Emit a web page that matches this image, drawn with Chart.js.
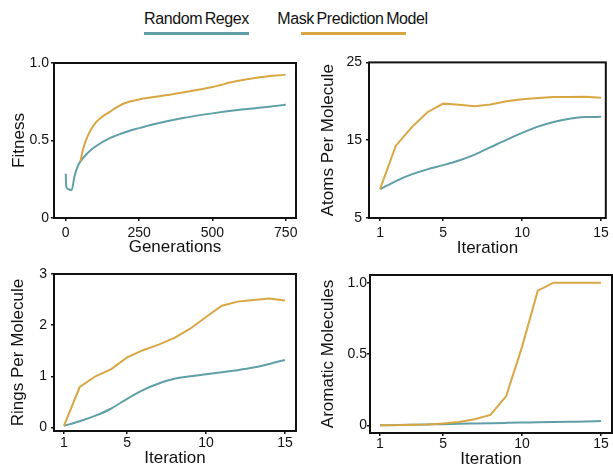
<!DOCTYPE html>
<html>
<head>
<meta charset="utf-8">
<script src="https://cdn.jsdelivr.net/npm/chart.js@4.4.1/dist/chart.umd.min.js"></script>
<style>
    body { margin: 0; width: 613px; height: 466px; background: #fff; position: relative; overflow: hidden; font-family: "Liberation Sans", Arial, sans-serif; }
    canvas { position: absolute; }
    .leg-text { position: absolute; top: 9px; font-size: 16px; line-height: 20px; color: #111; letter-spacing: -0.4px; word-spacing: -1.5px; white-space: nowrap; text-align: center; }
    .leg-line { position: absolute; top: 32px; height: 3px; width: 105px; }
</style>
</head>
<body>
<div class="leg-text" style="left:140px;width:113px">Random Regex</div>
<div class="leg-line" style="left:144px;background:#5f9fa7"></div>
<div class="leg-text" style="left:272px;width:161px">Mask Prediction Model</div>
<div class="leg-line" style="left:301px;background:#d8a744"></div>

<canvas id="fitnessChart" width="306" height="210" style="left:0;top:50px"></canvas>
<canvas id="atomsChart" width="307" height="210" style="left:306px;top:50px"></canvas>
<canvas id="ringsChart" width="306" height="206" style="left:0;top:260px"></canvas>
<canvas id="aromaticChart" width="307" height="206" style="left:306px;top:260px"></canvas>

<script>
    const seriesNames = ['Random Regex', 'Mask Prediction Model'];
    const regexColor = '#5f9fa7';
    const maskColor = '#d8a744';

    // Fitness vs generations
    const fitnessRegexGen = [0, 2, 10, 20, 30, 40, 50, 75, 100, 150, 200, 250, 300, 400, 500, 600, 700, 750];
    const fitnessRegex = [0.285, 0.20, 0.185, 0.18, 0.27, 0.33, 0.365, 0.42, 0.46, 0.515, 0.552, 0.58, 0.605, 0.645, 0.675, 0.70, 0.72, 0.73];
    const fitnessMaskGen = [50, 60, 75, 100, 125, 150, 175, 200, 250, 300, 400, 500, 575, 650, 750];
    const fitnessMask = [0.365, 0.45, 0.53, 0.61, 0.655, 0.685, 0.715, 0.74, 0.765, 0.78, 0.81, 0.845, 0.88, 0.905, 0.925];

    // per-iteration panels
    const iterations = [1, 2, 3, 4, 5, 6, 7, 8, 9, 10, 11, 12, 13, 14, 15];
    const atomsRegex = [8.7, 9.75, 10.6, 11.25, 11.8, 12.4, 13.15, 14.1, 15.05, 15.95, 16.75, 17.35, 17.75, 17.97, 18.0];
    const atomsMask = [8.7, 14.3, 16.65, 18.6, 19.7, 19.55, 19.35, 19.6, 20.0, 20.25, 20.42, 20.55, 20.55, 20.6, 20.47];
    const ringsRegex = [0.03, 0.12, 0.23, 0.37, 0.56, 0.73, 0.86, 0.95, 1.0, 1.04, 1.08, 1.12, 1.17, 1.24, 1.32];
    const ringsMask = [0.03, 0.79, 1.0, 1.14, 1.37, 1.51, 1.62, 1.75, 1.93, 2.16, 2.38, 2.46, 2.49, 2.52, 2.48];
    const aromaticRegex = [0, 0.002, 0.004, 0.006, 0.008, 0.011, 0.013, 0.015, 0.017, 0.019, 0.021, 0.023, 0.025, 0.027, 0.03];
    const aromaticMask = [0, 0.001, 0.003, 0.006, 0.012, 0.023, 0.042, 0.073, 0.205, 0.55, 0.944, 1.0, 1.0, 1.0, 1.0];

    // tick labels
    const genTicks = [0, 250, 500, 750];
    const iterTicks = [1, 5, 10, 15];
    const fitnessTicks = [0, 0.5, 1];
    const atomsTicks = [5, 15, 25];
    const ringsTicks = [0, 1, 2, 3];
    const aromaticTicks = [0, 0.5, 1];

    const FONT = '"Liberation Sans", Arial, sans-serif';
    const fmtFrac = v => v === 0 ? '0' : v.toFixed(1);

    const boxPlugin = {
        id: 'box',
        afterDraw(chart) {
            const { ctx, chartArea: a } = chart;
            ctx.save();
            ctx.strokeStyle = '#111';
            ctx.lineWidth = 2;
            ctx.strokeRect(a.left, a.top, a.right - a.left, a.bottom - a.top);
            ctx.restore();
        }
    };

    function zip(xs, ys) {
        return xs.map((x, i) => ({ x: x, y: ys[i] }));
    }

    function makeChart(id, p) {
        const tickGrid = { display: true, drawOnChartArea: false, drawTicks: true, tickLength: 3, color: '#111', lineWidth: 1.5 };
        return new Chart(document.getElementById(id), {
            type: 'line',
            data: {
                datasets: [
                    { label: seriesNames[0], data: p.regex, borderColor: regexColor, borderWidth: 2, pointRadius: 0, cubicInterpolationMode: 'monotone', order: 1 },
                    { label: seriesNames[1], data: p.mask, borderColor: maskColor, borderWidth: 2, pointRadius: 0, tension: p.maskTension || 0, cubicInterpolationMode: p.maskTension ? 'monotone' : 'default', order: 0 }
                ]
            },
            options: {
                responsive: false,
                animation: false,
                devicePixelRatio: 1,
                layout: { padding: { top: p.top, right: p.right, left: 0, bottom: 0 } },
                plugins: { legend: { display: false }, tooltip: { enabled: false } },
                scales: {
                    x: {
                        type: 'linear', min: p.xMin, max: p.xMax,
                        afterBuildTicks: s => { s.ticks = p.xTicks.map(v => ({ value: v })); },
                        afterFit: s => { s.height = p.xHeight; },
                        grid: tickGrid, border: { display: false },
                        ticks: { font: { family: FONT, size: 14 }, color: '#111', padding: p.xTickPad, maxRotation: 0 },
                        title: { display: true, text: p.xTitle, font: { family: FONT, size: 17, lineHeight: 1 }, color: '#111', padding: { top: 0, bottom: p.xTitlePad } }
                    },
                    y: {
                        min: p.yMin, max: p.yMax,
                        afterBuildTicks: s => { s.ticks = p.yTicks.map(v => ({ value: v })); },
                        afterFit: s => { s.width = p.yWidth; },
                        grid: tickGrid, border: { display: false },
                        ticks: { font: { family: FONT, size: 14 }, color: '#111', padding: p.yTickPad, callback: p.yFmt || (v => v) },
                        title: { display: true, text: p.yTitle, font: { family: FONT, size: 17, lineHeight: 1 }, color: '#111', padding: { top: p.yTitlePad, bottom: 0 } }
                    }
                }
            },
            plugins: [boxPlugin]
        });
    }

    makeChart('fitnessChart', {
        regex: zip(fitnessRegexGen, fitnessRegex), mask: zip(fitnessMaskGen, fitnessMask), maskTension: 0.4,
        top: 13, right: 10, xHeight: 42, yWidth: 54,
        xMin: -40, xMax: 785, xTicks: genTicks, xTitle: 'Generations', xTickPad: 4, xTitlePad: 4.5,
        yMin: 0, yMax: 1, yTicks: fitnessTicks, yTitle: 'Fitness', yTickPad: 2, yTitlePad: 10.5, yFmt: fmtFrac
    });

    makeChart('atomsChart', {
        regex: zip(iterations, atomsRegex), mask: zip(iterations, atomsMask),
        top: 11, right: 7, xHeight: 42, yWidth: 63,
        xMin: 0.3, xMax: 15.3, xTicks: iterTicks, xTitle: 'Iteration', xTickPad: 4, xTitlePad: 3.5,
        yMin: 5, yMax: 25, yTicks: atomsTicks, yTitle: 'Atoms Per Molecule', yTickPad: 4, yTitlePad: 13.5
    });

    makeChart('ringsChart', {
        regex: zip(iterations, ringsRegex), mask: zip(iterations, ringsMask),
        top: 14, right: 10, xHeight: 35, yWidth: 54,
        xMin: 0.37, xMax: 15.7, xTicks: iterTicks, xTitle: 'Iteration', xTickPad: 1, xTitlePad: -0.5,
        yMin: -0.07, yMax: 3, yTicks: ringsTicks, yTitle: 'Rings Per Molecule', yTickPad: 4, yTitlePad: 9.5
    });

    makeChart('aromaticChart', {
        regex: zip(iterations, aromaticRegex), mask: zip(iterations, aromaticMask),
        top: 15, right: 1, xHeight: 33, yWidth: 64,
        xMin: 0.37, xMax: 15.7, xTicks: iterTicks, xTitle: 'Iteration', xTickPad: 0, xTitlePad: -1.5,
        yMin: -0.054, yMax: 1.054, yTicks: aromaticTicks, yTitle: 'Aromatic Molecules', yTickPad: 0, yTitlePad: 13.5, yFmt: fmtFrac
    });
</script>
</body>
</html>
